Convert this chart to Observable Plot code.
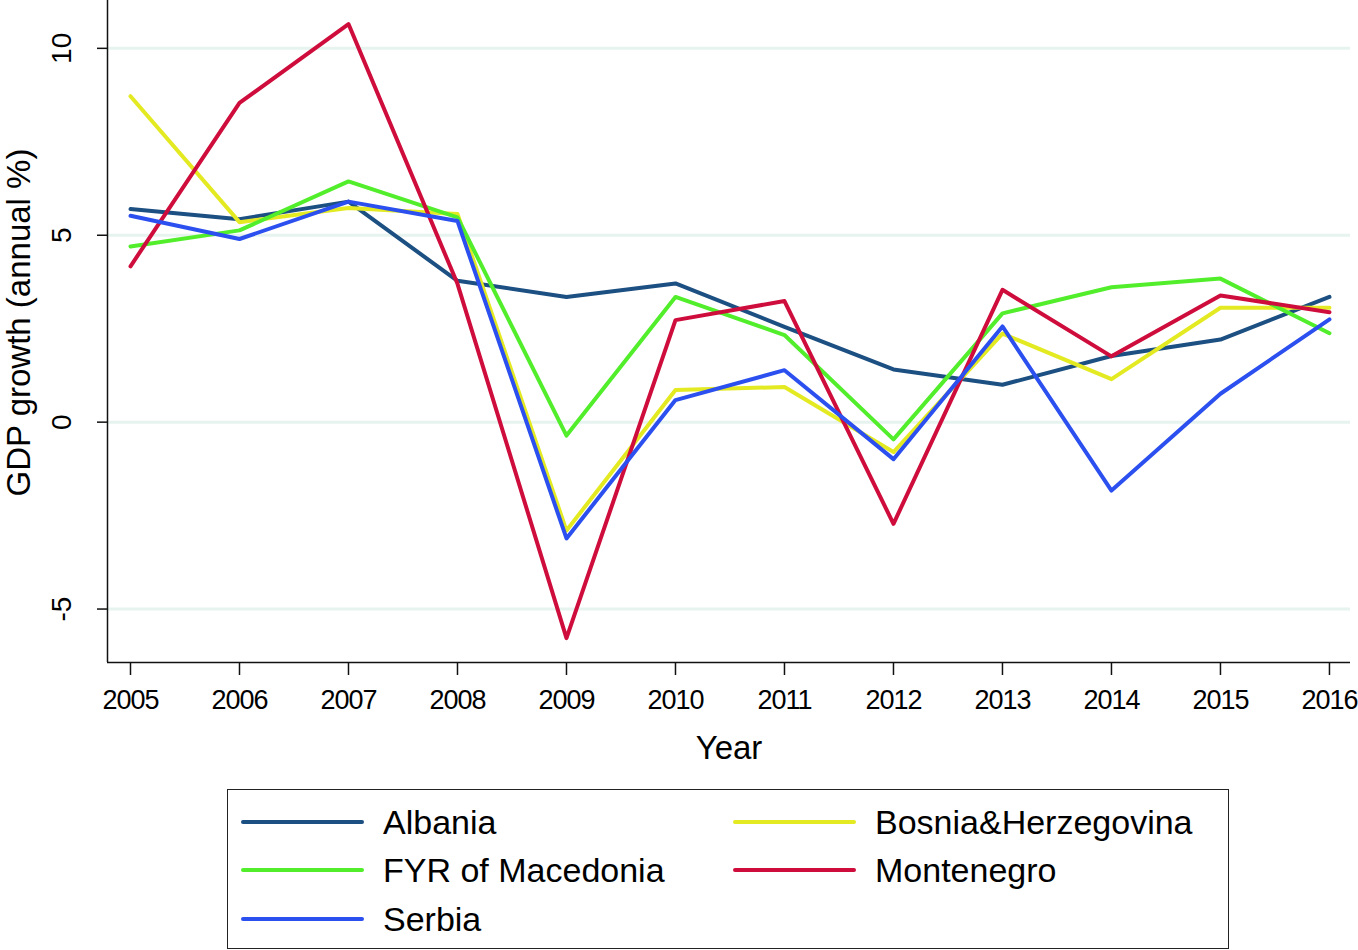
<!DOCTYPE html>
<html>
<head>
<meta charset="utf-8">
<script src="https://cdn.jsdelivr.net/npm/d3@7"></script>
<script src="https://cdn.jsdelivr.net/npm/@observablehq/plot@0.6"></script>
<style>
  html, body { margin: 0; padding: 0; background: white; }
  #wrap { position: relative; width: 1358px; height: 950px; font-family: "Liberation Sans", Arial, Helvetica, sans-serif; }
  #legend { position: absolute; left: 227px; top: 789px; width: 1000px; height: 158px; border: 1.5px solid #222; box-sizing: content-box; }
  .item { position: absolute; display: flex; align-items: center; height: 40px; font-size: 34px; color: #000; white-space: nowrap; }
  .swatch { width: 123px; height: 4px; border-radius: 2px; margin-right: 19px; }
  #chart svg g[aria-label="x-axis tick label"] text { letter-spacing: -1px; }
</style>
</head>
<body>
<div id="wrap">
  <div id="chart"></div>
  <div id="legend"></div>
</div>
<script>
const years = [2005, 2006, 2007, 2008, 2009, 2010, 2011, 2012, 2013, 2014, 2015, 2016];
const countries = ["Albania", "Bosnia&Herzegovina", "FYR of Macedonia", "Montenegro", "Serbia"];
const albania    = [5.70, 5.43, 5.90, 3.78, 3.35, 3.71, 2.55, 1.41, 1.00, 1.77, 2.21, 3.35];
const bosnia     = [8.72, 5.35, 5.73, 5.57, -2.90, 0.86, 0.94, -0.80, 2.37, 1.15, 3.06, 3.06];
const macedonia  = [4.70, 5.13, 6.44, 5.48, -0.36, 3.35, 2.33, -0.46, 2.91, 3.61, 3.84, 2.38];
const montenegro = [4.17, 8.54, 10.65, 3.70, -5.78, 2.73, 3.24, -2.72, 3.54, 1.76, 3.39, 2.94];
const serbia     = [5.52, 4.90, 5.90, 5.38, -3.11, 0.59, 1.39, -0.99, 2.56, -1.83, 0.76, 2.75];
const colors = ["#1c4f82", "#e4ea22", "#52ee2c", "#cf0d3c", "#2b50ef"];
const yTicks = [-5, 0, 5, 10];
const yLabel = "GDP growth (annual %)";
const xLabel = "Year";

const seriesValues = [albania, bosnia, macedonia, montenegro, serbia];
const table = [];
countries.forEach((c, i) => years.forEach((yr, j) => table.push({country: c, year: yr, value: seriesValues[i][j]})));

const xMin = 2005 - 0.211, xMax = 2016 + 0.193;
const yMin = -6.43, yMax = 11.28;

const chart = Plot.plot({
  width: 1358,
  height: 790,
  marginLeft: 107,
  marginRight: 8,
  marginTop: 0,
  marginBottom: 128,
  style: {fontFamily: "'Liberation Sans', Arial, Helvetica, sans-serif", background: "white", color: "black", fontSize: "28px"},
  x: {domain: [xMin, xMax]},
  y: {domain: [yMin, yMax]},
  color: {domain: countries, range: colors},
  marks: [
    Plot.ruleY(yTicks, {stroke: "#e6f3ef", strokeWidth: 3}),
    Plot.lineY(table, {x: "year", y: "value", z: "country", stroke: "country", strokeWidth: 4, strokeLinejoin: "round"}),
    Plot.ruleX([xMin], {stroke: "#111", strokeWidth: 1.5}),
    Plot.ruleY([yMin], {stroke: "#111", strokeWidth: 1.5}),
    Plot.axisX({ticks: years, tickFormat: d => String(d), tickSize: 13, tickPadding: 14, fontSize: 27, label: null, stroke: "#111", strokeWidth: 1.5}),
    Plot.axisY({ticks: yTicks, tickFormat: () => "", tickSize: 10, label: null, stroke: "#111", strokeWidth: 1.5}),
    Plot.text(yTicks, {y: d => d, text: d => String(d), frameAnchor: "left", textAnchor: "middle", rotate: -90, dx: -45, fontSize: 28, fill: "black"}),
    Plot.text([yLabel], {text: d => d, frameAnchor: "left", textAnchor: "middle", rotate: -90, dx: -88, dy: -9, fontSize: 33, fill: "black"}),
    Plot.text([xLabel], {text: d => d, frameAnchor: "bottom", dy: 96, fontSize: 33, fill: "black"})
  ]
});
document.getElementById("chart").appendChild(chart);

// legend (row-major, 2 columns)
const legend = document.getElementById("legend");
const rowTops = [32, 80, 129];
const colLefts = [13, 505];
countries.forEach((c, i) => {
  const row = Math.floor(i / 2), col = i % 2;
  const item = document.createElement("div");
  item.className = "item";
  item.style.left = colLefts[col] + "px";
  item.style.top = (rowTops[row] - 20) + "px";
  const sw = document.createElement("div");
  sw.className = "swatch";
  sw.style.background = colors[i];
  const lab = document.createElement("span");
  lab.textContent = c;
  item.appendChild(sw);
  item.appendChild(lab);
  legend.appendChild(item);
});
</script>
</body>
</html>
